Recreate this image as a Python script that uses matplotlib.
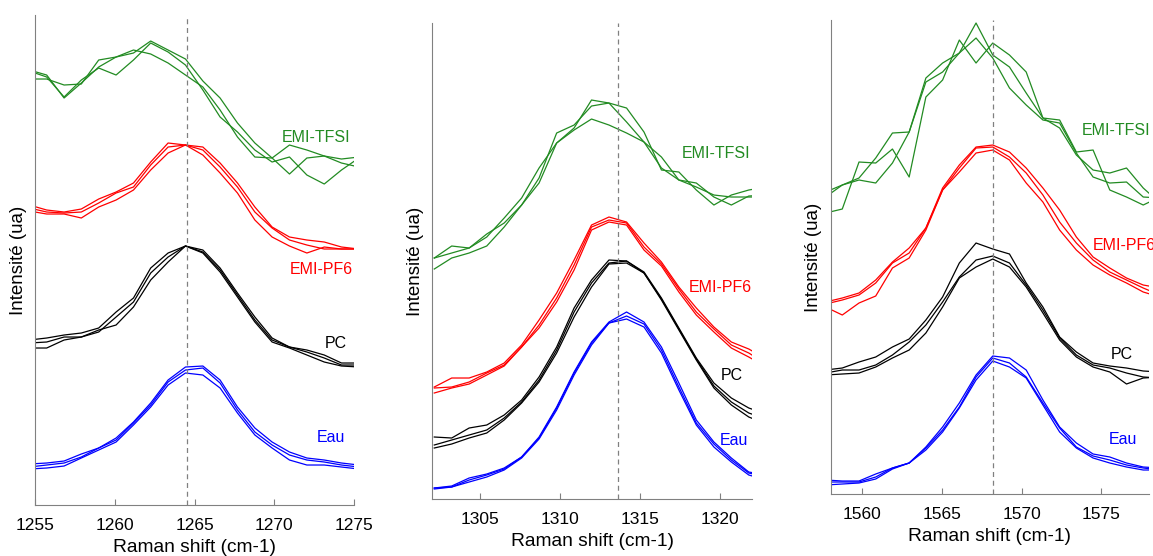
import matplotlib
matplotlib.use("Agg")
import matplotlib.pyplot as plt

plt.rcParams["font.family"] = ["Liberation Sans", "DejaVu Sans"]

SOLVENTS = ["Eau", "PC", "EMI-PF6", "EMI-TFSI"]
COLORS = {"Eau": "#0000ff", "PC": "#000000", "EMI-PF6": "#ff0000", "EMI-TFSI": "#228b22"}

# ---- band ~1265 cm-1 ----
shift_1265 = [1254.64, 1255.73, 1256.82, 1257.90, 1258.99, 1260.08, 1261.17, 1262.25, 1263.34, 1264.43,
              1265.52, 1266.60, 1267.69, 1268.78, 1269.86, 1270.95, 1272.04, 1273.13, 1274.21, 1275.30]
eau_1265 = [
    [41, 42, 44, 51, 57, 67, 83, 102, 125, 138, 139, 125, 98, 77, 63, 53, 47, 45, 42, 40],
    [38, 40, 42, 48, 57, 65, 82, 100, 123, 135, 137, 122, 95, 73, 60, 50, 45, 43, 40, 38],
    [36, 37, 39, 47, 55, 63, 80, 98, 120, 132, 130, 117, 92, 70, 57, 45, 40, 40, 38, 36],
]
pc_1265 = [
    [165, 167, 170, 172, 177, 193, 207, 237, 252, 259, 255, 237, 212, 188, 167, 158, 155, 150, 142, 142],
    [162, 163, 168, 168, 173, 188, 203, 232, 248, 259, 253, 235, 210, 185, 165, 158, 153, 147, 140, 140],
    [157, 157, 165, 168, 175, 180, 198, 225, 243, 259, 252, 233, 208, 183, 163, 157, 150, 143, 139, 138],
]
pf6_1265 = [
    [300, 295, 293, 296, 306, 313, 322, 343, 362, 360, 358, 342, 322, 298, 278, 268, 265, 263, 258, 256],
    [297, 293, 292, 293, 302, 312, 318, 340, 358, 360, 355, 338, 318, 293, 277, 265, 260, 256, 256, 256],
    [294, 291, 291, 287, 298, 305, 315, 335, 352, 360, 350, 332, 312, 285, 268, 259, 252, 258, 256, 256],
]
tfsi_1265 = [
    [435, 430, 407, 422, 438, 448, 452, 464, 455, 446, 424, 407, 382, 362, 347, 331, 347, 349, 346, 348],
    [426, 426, 420, 421, 445, 448, 455, 451, 442, 430, 418, 395, 368, 348, 347, 360, 355, 349, 342, 338],
    [434, 428, 408, 425, 437, 430, 445, 462, 453, 440, 415, 388, 373, 355, 343, 348, 330, 321, 335, 347],
]

# ---- band ~1313 cm-1 ----
shift_1313 = [1302.14, 1303.23, 1304.32, 1305.42, 1306.51, 1307.60, 1308.69, 1309.79, 1310.88, 1311.97,
              1313.06, 1314.16, 1315.25, 1316.34, 1317.43, 1318.52, 1319.62, 1320.71, 1321.80, 1322.89]
eau_1313 = [
    [11, 13, 21, 25, 31, 42, 62, 92, 127, 157, 177, 187, 177, 152, 116, 79, 57, 41, 27, 24],
    [11, 12, 19, 24, 30, 42, 61, 91, 126, 156, 176, 183, 175, 149, 112, 76, 55, 39, 26, 22],
    [10, 12, 17, 22, 29, 41, 60, 89, 124, 154, 176, 180, 172, 146, 109, 74, 52, 37, 24, 19],
]
pc_1313 = [
    [62, 61, 71, 74, 84, 99, 122, 152, 191, 219, 239, 238, 227, 201, 171, 141, 116, 101, 91, 85],
    [54, 59, 64, 69, 81, 97, 119, 149, 187, 216, 236, 238, 226, 200, 170, 140, 113, 97, 86, 80],
    [51, 55, 61, 66, 79, 96, 117, 146, 182, 212, 235, 236, 226, 199, 169, 139, 111, 94, 82, 75],
]
pf6_1313 = [
    [112, 121, 121, 127, 136, 154, 179, 206, 239, 274, 282, 277, 256, 237, 212, 191, 172, 157, 150, 140],
    [111, 112, 117, 126, 134, 152, 174, 201, 234, 272, 279, 276, 252, 235, 210, 187, 170, 154, 146, 135],
    [106, 111, 115, 124, 133, 152, 171, 197, 229, 269, 277, 274, 249, 233, 207, 184, 167, 151, 142, 132],
]
tfsi_1313 = [
    [241, 246, 251, 262, 281, 301, 331, 356, 371, 399, 396, 391, 367, 329, 327, 309, 294, 304, 309, 312],
    [241, 253, 251, 265, 276, 294, 321, 366, 374, 393, 396, 377, 357, 331, 319, 316, 302, 294, 303, 304],
    [230, 241, 246, 253, 272, 294, 316, 356, 369, 380, 374, 366, 357, 342, 319, 312, 304, 302, 302, 302],
]

# ---- band ~1568 cm-1 ----
shift_1568 = [1557.69, 1558.74, 1559.79, 1560.84, 1561.89, 1562.94, 1563.99, 1565.04, 1566.09, 1567.14, 1568.19,
              1569.24, 1570.29, 1571.34, 1572.39, 1573.44, 1574.49, 1575.54, 1576.59, 1577.64, 1578.69]
eau_1568 = [
    [14, 13, 13, 20, 26, 31, 47, 67, 91, 119, 138, 136, 124, 94, 67, 51, 40, 37, 31, 27, 26],
    [12, 12, 12, 17, 26, 31, 46, 64, 87, 117, 136, 131, 117, 91, 66, 47, 38, 34, 29, 26, 24],
    [9, 10, 11, 15, 25, 31, 44, 62, 86, 114, 133, 127, 116, 89, 62, 46, 36, 31, 27, 24, 24],
]
pc_1568 = [
    [124, 126, 132, 137, 147, 155, 174, 197, 231, 251, 245, 240, 211, 187, 157, 142, 131, 128, 126, 123, 122],
    [121, 124, 124, 129, 139, 152, 169, 192, 217, 234, 238, 231, 209, 184, 156, 139, 129, 126, 121, 117, 116],
    [119, 120, 121, 127, 136, 144, 161, 187, 216, 227, 235, 227, 207, 181, 154, 137, 127, 122, 110, 116, 117],
]
pf6_1568 = [
    [192, 196, 201, 214, 232, 246, 266, 306, 329, 347, 349, 342, 326, 306, 284, 257, 237, 226, 216, 209, 206],
    [190, 194, 199, 211, 231, 241, 266, 304, 326, 346, 347, 337, 321, 299, 272, 251, 234, 222, 214, 206, 199],
    [187, 179, 191, 198, 226, 236, 264, 304, 322, 341, 344, 334, 311, 292, 264, 244, 229, 219, 211, 202, 197],
]
tfsi_1568 = [
    [297, 309, 316, 336, 361, 362, 416, 431, 441, 471, 439, 427, 401, 376, 366, 339, 324, 321, 326, 306, 291],
    [281, 285, 332, 331, 345, 317, 397, 414, 454, 431, 451, 439, 422, 376, 374, 342, 344, 304, 297, 289, 297],
    [302, 309, 314, 311, 331, 362, 412, 422, 441, 456, 436, 406, 389, 374, 371, 341, 317, 311, 312, 297, 296],
]

panels = [
    {"x": shift_1265, "series": [eau_1265, pc_1265, pf6_1265, tfsi_1265], "xlim": (1255, 1275),
     "ticks": [1255, 1260, 1265, 1270, 1275], "ylim": 490, "peak": 1264.55,
     "rect": [0.0304, 0.0917, 0.2767, 0.8813],
     "labels": [(1274.44, 68, "right"), (1274.56, 162, "right"), (1274.94, 236, "right"), (1274.75, 368, "right")]},
    {"x": shift_1313, "series": [eau_1313, pc_1313, pf6_1313, tfsi_1313], "xlim": (1302, 1322),
     "ticks": [1305, 1310, 1315, 1320], "ylim": 476, "peak": 1313.6,
     "rect": [0.3747, 0.1025, 0.2775, 0.8561],
     "labels": [(1321.75, 59, "right"), (1321.4, 124, "right"), (1322.0, 212, "right"), (1321.9, 346, "right")]},
    {"x": shift_1568, "series": [eau_1568, pc_1568, pf6_1568, tfsi_1568], "xlim": (1558, 1578),
     "ticks": [1560, 1565, 1570, 1575], "ylim": 474, "peak": 1568.18,
     "rect": [0.7203, 0.1115, 0.2762, 0.8525],
     "labels": [(1577.24, 55, "right"), (1576.99, 140, "right"), (1574.48, 249, "left"), (1578.06, 364, "right")]},
]

fig = plt.figure(figsize=(11.53, 5.56), dpi=100)

for p in panels:
    ax = fig.add_axes(p["rect"])
    for name, reps in zip(SOLVENTS, p["series"]):
        for y in reps:
            ax.plot(p["x"], y, color=COLORS[name], lw=0.9)
    # the EMI-PF6 tag of the last panel runs off the figure edge, as in the original
    for name, (lx, ly, ha) in zip(SOLVENTS, p["labels"]):
        ax.text(lx, ly, name, color=COLORS[name], fontsize=11.5, ha=ha, va="center", clip_on=False)
    ax.axvline(p["peak"], color="#808080", lw=0.9, ls=(0, (4, 3)))

    ax.set_xlim(*p["xlim"])
    ax.set_ylim(0, p["ylim"])
    ax.set_xticks(p["ticks"])
    ax.set_yticks([])
    for side in ["top", "right"]:
        ax.spines[side].set_visible(False)
    for side in ["left", "bottom"]:
        ax.spines[side].set_color("#808080")
    ax.tick_params(axis="x", direction="in", length=4, color="#808080", labelsize=12.5, pad=9)
    ax.set_xlabel("Raman shift (cm-1)", fontsize=13.8, labelpad=4.5)
    ax.set_ylabel("Intensité (ua)", fontsize=13.5)
    ax.yaxis.set_label_coords(-0.026, 0.5)

fig.savefig("out.png", dpi=100)
